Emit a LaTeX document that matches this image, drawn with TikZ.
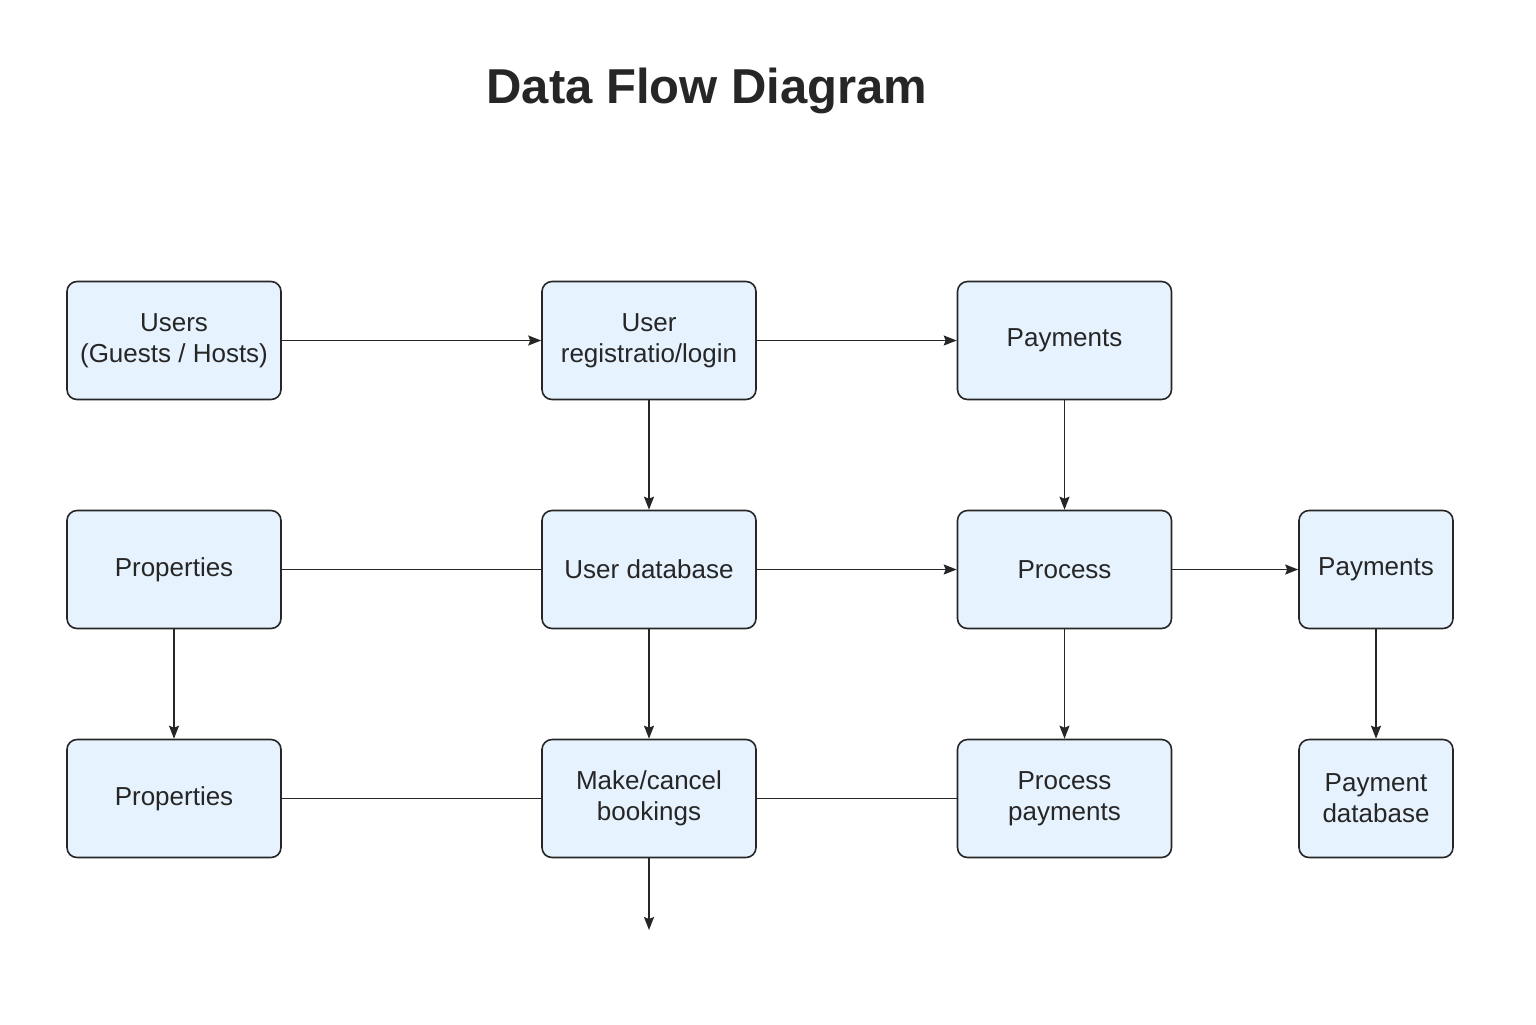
\documentclass[tikz,border=0pt]{standalone}
\usepackage{fontspec}
\setmainfont{Liberation Sans}
\usepackage{tikz}
\usepackage{color}
\usetikzlibrary{arrows.meta}

\definecolor{boxfill}{HTML}{E6F2FD}
\definecolor{inkgray}{HTML}{262626}

\begin{document}
\begin{tikzpicture}[x=0.5pt, y=-0.5pt,
    flowbox/.style={draw=inkgray, line width=0.8pt, fill=boxfill, rounded corners=5pt,
        minimum width=107pt, minimum height=59pt, inner sep=0pt, align=center,
        font=\fontsize{13}{15.5}\selectfont, text=inkgray},
    smallbox/.style={flowbox, minimum width=77pt},
    flow/.style={draw=inkgray, line width=0.8pt, -{Stealth[length=6.5pt, width=5pt, inset=1pt]}},
    link/.style={draw=inkgray, line width=0.8pt}]
    \useasboundingbox (0,0) rectangle (1536,1024);

    % Title
    \node[font=\fontsize{24.5}{28}\selectfont\bfseries, text=inkgray] (title) at (707,91) {Data Flow Diagram};

    % Top row
    \node[flowbox] (users) at (174,340.5) {Users\\(Guests / Hosts)};
    \node[flowbox] (reg) at (649,340.5) {User\\registratio/login};
    \node[flowbox] (pay) at (1064.5,340.5) {Payments};

    % Middle row
    \node[flowbox] (props) at (174,569.5) {Properties};
    \node[flowbox] (userdb) at (649,569.5) {User database};
    \node[flowbox] (proc) at (1064.5,569.5) {Process};
    \node[smallbox] (payright) at (1376,569.5) {Payments};

    % Bottom row
    \node[flowbox] (propslow) at (174,798.5) {Properties};
    \node[flowbox] (book) at (649,798.5) {Make/cancel\\bookings};
    \node[flowbox] (procpay) at (1064.5,798.5) {Process\\payments};
    \node[smallbox] (paydb) at (1376,798.5) {Payment\\database};

    % Flows
    \draw[flow] (users) -- (reg);
    \draw[flow] (reg) -- (pay);
    \draw[flow] (reg) -- (userdb);
    \draw[flow] (pay) -- (proc);
    \draw[link] (props) -- (userdb);
    \draw[flow] (userdb) -- (proc);
    \draw[flow] (proc) -- (payright);
    \draw[flow] (props) -- (propslow);
    \draw[flow] (userdb) -- (book);
    \draw[flow] (proc) -- (procpay);
    \draw[flow] (payright) -- (paydb);
    \draw[link] (propslow) -- (book);
    \draw[link] (book) -- (procpay);

    % Outgoing flow
    \coordinate (out) at (649,930);
    \draw[flow] (book) -- (out);
\end{tikzpicture}
\end{document}
